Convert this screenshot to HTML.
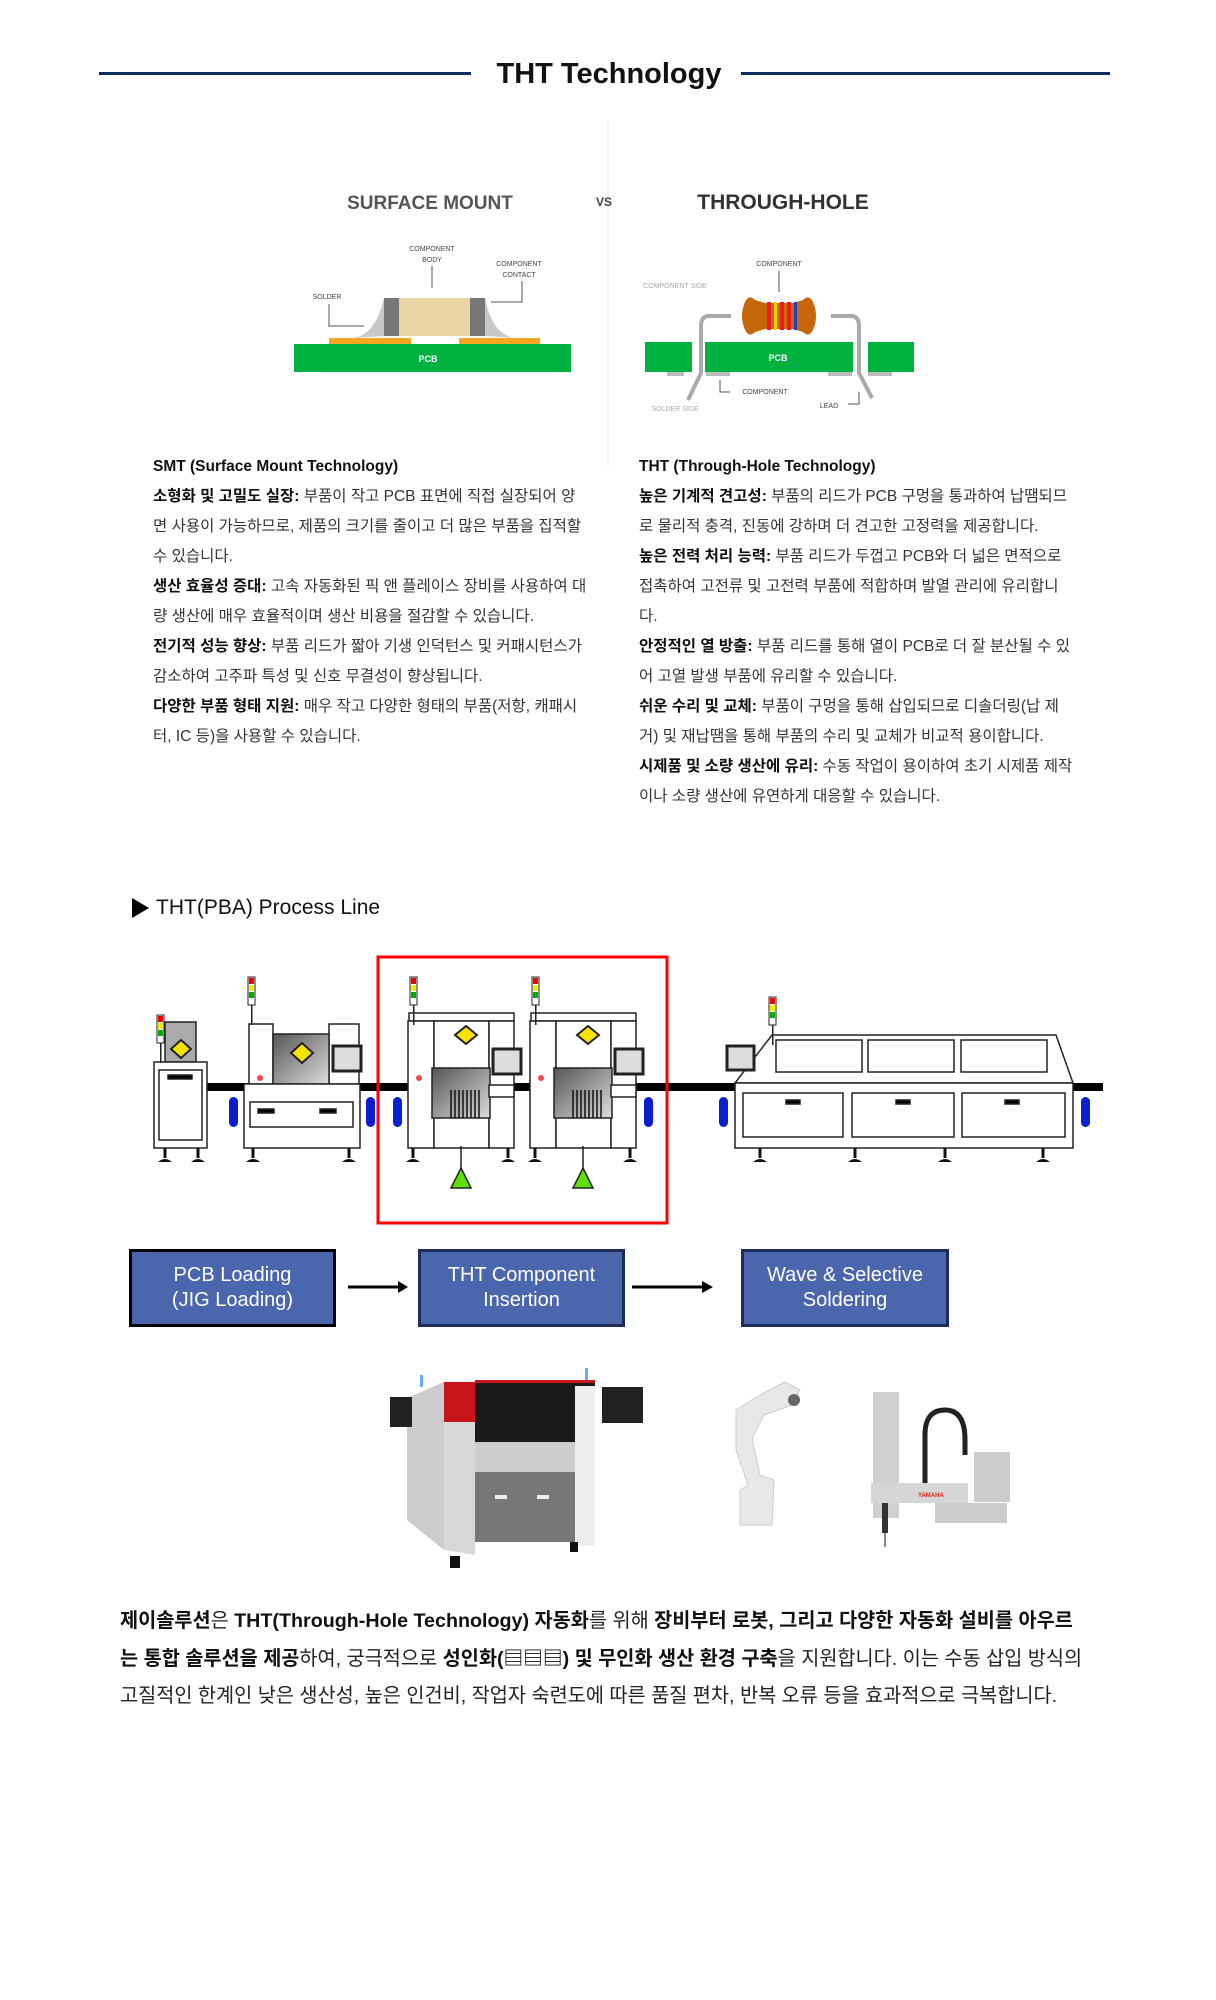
<!DOCTYPE html>
<html><head><meta charset="utf-8">
<style>
html,body{margin:0;padding:0;background:#fff;}
body{width:1216px;height:2000px;position:relative;overflow:hidden;font-family:"Liberation Sans","Noto Sans CJK KR",sans-serif;color:#222;}
.abs{position:absolute;}
.col{position:absolute;font-size:15.5px;line-height:30px;white-space:nowrap;color:#333;}
.col b{color:#111;}
.box{position:absolute;background:#4a66ad;color:#fff;font-size:20px;line-height:25px;text-align:center;display:flex;align-items:center;justify-content:center;box-sizing:border-box;}
.para{position:absolute;left:120px;top:1603px;font-size:19.7px;line-height:37.5px;white-space:nowrap;color:#222;}
.para b{color:#111;}
</style></head><body>

<div class="abs" style="left:99px;top:72px;width:372px;height:3px;background:#0d2d5e"></div>
<div class="abs" style="left:741px;top:72px;width:369px;height:3px;background:#0d2d5e"></div>
<div class="abs" style="left:474px;top:56px;width:270px;text-align:center;font-size:29px;font-weight:bold;color:#111;line-height:36px">THT Technology</div>

<div class="abs" style="left:607px;top:122px;width:2px;height:345px;background:#f0f0f3"></div>

<svg class="abs" style="left:0;top:0" width="1216" height="520">
  <text x="430" y="209" text-anchor="middle" font-family="Liberation Sans" font-weight="bold" font-size="19" fill="#555">SURFACE MOUNT</text>
  <text x="604" y="206" text-anchor="middle" font-family="Liberation Sans" font-weight="bold" font-size="12" fill="#444">VS</text>
  <text x="783" y="209" text-anchor="middle" font-family="Liberation Sans" font-weight="bold" font-size="21" fill="#333">THROUGH-HOLE</text>

  <rect x="294" y="344" width="277" height="28" fill="#00b140"/>
  <text x="428" y="362" text-anchor="middle" font-size="9" font-weight="bold" fill="#fff" font-family="Liberation Sans">PCB</text>
  <rect x="329" y="338" width="82" height="6" fill="#f5a623"/>
  <rect x="459" y="338" width="81" height="6" fill="#f5a623"/>
  <path d="M354 338 Q376 334 384 298 L384 336 Z" fill="#c8c8c8"/>
  <path d="M514 338 Q492 334 485 298 L485 336 Z" fill="#c8c8c8"/>
  <rect x="384" y="298" width="101" height="38" fill="#ead6a5"/>
  <rect x="384" y="298" width="15" height="38" fill="#777"/>
  <rect x="470" y="298" width="15" height="38" fill="#777"/>
  <g font-family="Liberation Sans" font-size="7" fill="#444" text-anchor="middle">
    <text x="432" y="251">COMPONENT</text><text x="432" y="262">BODY</text>
    <text x="519" y="266">COMPONENT</text><text x="519" y="277">CONTACT</text>
    <text x="327" y="299">SOLDER</text>
  </g>
  <g stroke="#555" stroke-width="1" fill="none">
    <path d="M432 266 V288"/><path d="M522 281 V302 H491"/><path d="M329 304 V326 H364"/>
  </g>

  <g transform="translate(4,0)">
  <rect x="641" y="342" width="47" height="30" fill="#00b140"/>
  <rect x="701" y="342" width="148" height="30" fill="#00b140"/>
  <rect x="864" y="342" width="46" height="30" fill="#00b140"/>
  <rect x="663" y="372" width="17" height="4" fill="#bbb"/><rect x="702" y="372" width="24" height="4" fill="#bbb"/>
  <rect x="824" y="372" width="24" height="4" fill="#bbb"/><rect x="864" y="372" width="24" height="4" fill="#bbb"/>
  <text x="774" y="361" text-anchor="middle" font-size="9" font-weight="bold" fill="#fff" font-family="Liberation Sans">PCB</text>
  <path d="M727 316 H705 Q697 316 697 326 V373 L684 400" stroke="#aaa" stroke-width="4" fill="none"/>
  <path d="M827 316 H847 Q855 316 855 326 V373 L868 398" stroke="#aaa" stroke-width="4" fill="none"/>
  <path d="M741 302 Q745 294 751 300 L761 303 H789 L799 300 Q805 294 809 302 Q815 316 809 330 Q805 338 799 332 L789 329 H761 L751 332 Q745 338 741 330 Q735 316 741 302 Z" fill="#c8660a"/>
  <rect x="763" y="302" width="4" height="28" fill="#e62020"/><rect x="770" y="302" width="3" height="28" fill="#f5d000"/>
  <rect x="776" y="302" width="4" height="28" fill="#e62020"/><rect x="783" y="302" width="4" height="28" fill="#e62020"/><rect x="790" y="302" width="3" height="28" fill="#2040c0"/>
  <g font-family="Liberation Sans" font-size="7" text-anchor="middle">
    <text x="775" y="266" fill="#444">COMPONENT</text>
    <text x="671" y="288" fill="#aaa">COMPONENT SIDE</text>
    <text x="761" y="394" fill="#444">COMPONENT</text>
    <text x="671" y="411" fill="#aaa">SOLDER SIDE</text>
    <text x="825" y="408" fill="#444">LEAD</text>
  </g>
  <g stroke="#555" stroke-width="1" fill="none">
    <path d="M775 271 V292"/><path d="M716 380 V392 H726"/><path d="M844 404 H855 V392"/>
  </g>
  </g>
</svg>

<div class="col" style="left:153px;top:452px">
<b>SMT (Surface Mount Technology)</b><br>
<b>소형화 및 고밀도 실장:</b> 부품이 작고 PCB 표면에 직접 실장되어 양<br>
면 사용이 가능하므로, 제품의 크기를 줄이고 더 많은 부품을 집적할<br>
수 있습니다.<br>
<b>생산 효율성 증대:</b> 고속 자동화된 픽 앤 플레이스 장비를 사용하여 대<br>
량 생산에 매우 효율적이며 생산 비용을 절감할 수 있습니다.<br>
<b>전기적 성능 향상:</b> 부품 리드가 짧아 기생 인덕턴스 및 커패시턴스가<br>
감소하여 고주파 특성 및 신호 무결성이 향상됩니다.<br>
<b>다양한 부품 형태 지원:</b> 매우 작고 다양한 형태의 부품(저항, 캐패시<br>
터, IC 등)을 사용할 수 있습니다.
</div>
<div class="col" style="left:639px;top:452px">
<b>THT (Through-Hole Technology)</b><br>
<b>높은 기계적 견고성:</b> 부품의 리드가 PCB 구멍을 통과하여 납땜되므<br>
로 물리적 충격, 진동에 강하며 더 견고한 고정력을 제공합니다.<br>
<b>높은 전력 처리 능력:</b> 부품 리드가 두껍고 PCB와 더 넓은 면적으로<br>
접촉하여 고전류 및 고전력 부품에 적합하며 발열 관리에 유리합니<br>
다.<br>
<b>안정적인 열 방출:</b> 부품 리드를 통해 열이 PCB로 더 잘 분산될 수 있<br>
어 고열 발생 부품에 유리할 수 있습니다.<br>
<b>쉬운 수리 및 교체:</b> 부품이 구멍을 통해 삽입되므로 디솔더링(납 제<br>
거) 및 재납땜을 통해 부품의 수리 및 교체가 비교적 용이합니다.<br>
<b>시제품 및 소량 생산에 유리:</b> 수동 작업이 용이하여 초기 시제품 제작<br>
이나 소량 생산에 유연하게 대응할 수 있습니다.
</div>

<svg class="abs" style="left:131px;top:897px" width="20" height="24"><path d="M1 1 L18 11 L1 21 Z" fill="#000"/></svg>
<div class="abs" style="left:156px;top:894px;font-size:21px;line-height:28px;color:#111">THT(PBA) Process Line</div>

<svg class="abs" style="left:0;top:940px" width="1216" height="300">
<g transform="translate(0,-940)" stroke="#222" stroke-width="1.5">
  <rect x="206" y="1083" width="897" height="8" fill="#000" stroke="none"/>
  <rect x="165" y="1022" width="31" height="40" fill="#aaa"/>
  <path d="M181 1040 L191 1049 L181 1058 L171 1049 Z" fill="#f5e400" stroke-width="2"/>
  <rect x="154" y="1062" width="53" height="86" fill="#fff"/>
  <rect x="159" y="1070" width="43" height="70" fill="#fff"/>
  <rect x="168" y="1075" width="24" height="4" fill="#000"/>
  <rect x="249" y="1024" width="24" height="60" fill="#fff"/>
  <rect x="329" y="1024" width="30" height="60" fill="#fff"/>
  <defs><linearGradient id="g1" x1="0" y1="0" x2="1" y2="1"><stop offset="0" stop-color="#555"/><stop offset="1" stop-color="#ddd"/></linearGradient></defs>
  <rect x="273" y="1034" width="56" height="50" fill="url(#g1)"/>
  <path d="M302 1043 L313 1053 L302 1063 L291 1053 Z" fill="#f5e400" stroke-width="2"/>
  <rect x="333" y="1046" width="28" height="25" fill="#ddd" stroke-width="3"/>
  <rect x="244" y="1084" width="116" height="64" fill="#fff"/>
  <rect x="250" y="1102" width="103" height="25" fill="#fff"/>
  <rect x="258" y="1109" width="16" height="4" fill="#000"/><rect x="320" y="1109" width="16" height="4" fill="#000"/>
  <circle cx="260" cy="1078" r="3" fill="#f44" stroke="none"/>
  <g id="ins">
    <rect x="409" y="1013" width="105" height="8" fill="#fff"/>
    <rect x="408" y="1021" width="26" height="127" fill="#fff"/>
    <rect x="434" y="1021" width="55" height="127" fill="#fff"/>
    <rect x="489" y="1021" width="25" height="127" fill="#fff"/>
    <rect x="432" y="1068" width="58" height="50" fill="url(#g1)"/>
    <path d="M451 1090 V1118 M455 1090 V1118 M459 1090 V1118 M463 1090 V1118 M467 1090 V1118 M471 1090 V1118 M475 1090 V1118 M479 1090 V1118" stroke="#111"/>
    <rect x="489" y="1085" width="25" height="12" fill="#fff"/>
    <path d="M466 1026 L477 1035 L466 1044 L455 1035 Z" fill="#f5e400" stroke-width="2"/>
    <rect x="493" y="1049" width="28" height="25" fill="#ddd" stroke-width="3"/>
    <circle cx="419" cy="1078" r="3" fill="#f44" stroke="none"/>
    <path d="M461 1146 V1170" />
    <path d="M461 1168 L471 1188 L451 1188 Z" fill="#5ee000"/>
  </g>
  <use href="#ins" transform="translate(122,0)"/>
  <path d="M772 1035 L1056 1035 L1073 1083 L735 1083 Z" fill="#fff"/>
  <rect x="776" y="1040" width="86" height="32" fill="#fff"/><rect x="868" y="1040" width="86" height="32" fill="#fff"/><rect x="961" y="1040" width="86" height="32" fill="#fff"/>
  <rect x="735" y="1083" width="338" height="65" fill="#fff"/>
  <rect x="743" y="1093" width="100" height="44" fill="#fff"/><rect x="852" y="1093" width="102" height="44" fill="#fff"/><rect x="962" y="1093" width="103" height="44" fill="#fff"/>
  <rect x="786" y="1100" width="14" height="4" fill="#000"/><rect x="896" y="1100" width="14" height="4" fill="#000"/><rect x="1005" y="1100" width="14" height="4" fill="#000"/>
  <rect x="727" y="1046" width="27" height="24" fill="#ddd" stroke-width="3"/>
</g>
<g transform="translate(0,-940)">
  <g id="tw"><rect x="-3" y="0" width="7" height="28" fill="#fff" stroke="#222"/><rect x="-2" y="1" width="5" height="6" fill="#e00"/><rect x="-2" y="8" width="5" height="6" fill="#ee0"/><rect x="-2" y="15" width="5" height="6" fill="#0a0"/><rect x="0" y="28" width="1.5" height="20" fill="#222"/></g>
  <use href="#tw" transform="translate(160,1015)"/>
  <use href="#tw" transform="translate(251,977)"/>
  <use href="#tw" transform="translate(413,977)"/>
  <use href="#tw" transform="translate(535,977)"/>
  <use href="#tw" transform="translate(772,997)"/>
  <g fill="#0a1fd0">
    <rect x="229" y="1097" width="9" height="30" rx="4.5"/><rect x="366" y="1097" width="9" height="30" rx="4.5"/>
    <rect x="393" y="1097" width="9" height="30" rx="4.5"/><rect x="644" y="1097" width="9" height="30" rx="4.5"/>
    <rect x="719" y="1097" width="9" height="30" rx="4.5"/><rect x="1081" y="1097" width="9" height="30" rx="4.5"/>
  </g>
  <g fill="#111">
    <g id="leg"><rect x="-1.5" y="0" width="3" height="10"/><path d="M-7 14 Q0 8 7 14 Z"/></g>
    <use href="#leg" transform="translate(165,1148)"/><use href="#leg" transform="translate(198,1148)"/>
    <use href="#leg" transform="translate(253,1148)"/><use href="#leg" transform="translate(349,1148)"/>
    <use href="#leg" transform="translate(413,1148)"/><use href="#leg" transform="translate(508,1148)"/>
    <use href="#leg" transform="translate(535,1148)"/><use href="#leg" transform="translate(630,1148)"/>
    <use href="#leg" transform="translate(760,1148)"/><use href="#leg" transform="translate(855,1148)"/>
    <use href="#leg" transform="translate(945,1148)"/><use href="#leg" transform="translate(1043,1148)"/>
  </g>
  <rect x="378" y="957" width="289" height="266" fill="none" stroke="#f00" stroke-width="3"/>
</g>
</svg>

<div class="box" style="left:129px;top:1249px;width:207px;height:78px;border:3px solid #000">PCB Loading<br>(JIG Loading)</div>
<div class="box" style="left:418px;top:1249px;width:207px;height:78px;border:3px solid #1f2d5a">THT Component<br>Insertion</div>
<div class="box" style="left:741px;top:1249px;width:208px;height:78px;border:3px solid #1f2d5a">Wave &amp; Selective<br>Soldering</div>
<svg class="abs" style="left:340px;top:1276px" width="400" height="24">
  <path d="M8 11 H60" stroke="#000" stroke-width="3"/><path d="M58 5 L68 11 L58 17 Z" fill="#000"/>
  <path d="M292 11 H364" stroke="#000" stroke-width="3"/><path d="M362 5 L373 11 L362 17 Z" fill="#000"/>
</svg>

<svg class="abs" style="left:380px;top:1360px" width="660" height="220">
  <path d="M27 38 L64 22 L64 190 L27 160 Z" fill="#ccc"/>
  <rect x="10" y="37" width="22" height="30" fill="#222"/>
  <path d="M64 22 L95 22 L95 195 L64 190 Z" fill="#d8d8d8"/>
  <rect x="64" y="22" width="31" height="40" fill="#c8141b"/>
  <rect x="95" y="20" width="120" height="62" fill="#1a1a1a"/>
  <rect x="95" y="20" width="120" height="3" fill="#c8141b"/>
  <rect x="95" y="82" width="120" height="30" fill="#ccc"/>
  <rect x="95" y="112" width="100" height="70" fill="#777"/>
  <rect x="115" y="135" width="12" height="4" fill="#eee"/><rect x="157" y="135" width="12" height="4" fill="#eee"/>
  <rect x="195" y="26" width="20" height="160" fill="#eee"/>
  <rect x="222" y="27" width="41" height="36" fill="#222"/>
  <rect x="70" y="196" width="10" height="12" fill="#111"/><rect x="190" y="182" width="8" height="10" fill="#111"/>
  <rect x="40" y="15" width="3" height="12" fill="#6af"/><rect x="205" y="8" width="3" height="12" fill="#6af"/>
  <path d="M360 165 L392 165 L394 120 L380 115 L372 78 L384 55 L412 45 L420 30 L405 22 L380 35 L356 50 L356 90 L368 125 L360 130 Z" fill="#e8e8e8" stroke="#ccc"/>
  <circle cx="414" cy="40" r="6" fill="#666"/>
  <rect x="493" y="32" width="26" height="126" fill="#d0d0d0"/>
  <rect x="491" y="123" width="97" height="20" fill="#d6d6d6"/>
  <text x="538" y="137" font-size="6" fill="#d22" font-family="Liberation Sans" font-weight="bold">YAMAHA</text>
  <path d="M545 123 V75 Q545 50 565 50 Q585 50 585 80 V95" stroke="#222" stroke-width="5" fill="none"/>
  <rect x="594" y="92" width="36" height="50" fill="#ccc"/>
  <rect x="555" y="143" width="72" height="20" fill="#ccc"/>
  <rect x="502" y="143" width="6" height="30" fill="#333"/>
  <rect x="504" y="173" width="2" height="14" fill="#888"/>
</svg>

<div class="para">
<b>제이솔루션</b>은 <b>THT(Through-Hole Technology) 자동화</b>를 위해 <b>장비부터 로봇, 그리고 다양한 자동화 설비를 아우르</b><br>
<b>는 통합 솔루션을 제공</b>하여, 궁극적으로 <b>성인화(▤▤▤) 및 무인화 생산 환경 구축</b>을 지원합니다. 이는 수동 삽입 방식의<br>
고질적인 한계인 낮은 생산성, 높은 인건비, 작업자 숙련도에 따른 품질 편차, 반복 오류 등을 효과적으로 극복합니다.
</div>

</body></html>
